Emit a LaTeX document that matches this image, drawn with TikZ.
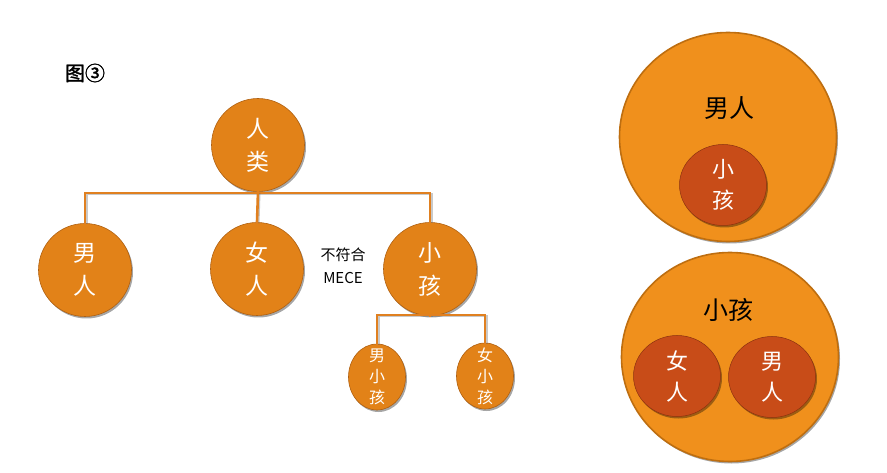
\documentclass[tikz,border=0pt]{standalone}
\usepackage{fontspec}
\newfontfamily\cjk{Noto Sans CJK SC}
\newfontfamily\cjkb[FakeBold=1.5]{Noto Sans CJK SC}
\usetikzlibrary{shapes.geometric,shadows}
\definecolor{nodeorange}{RGB}{226,130,24}
\definecolor{nodeedge}{RGB}{176,96,16}
\definecolor{bigorange}{RGB}{240,144,28}
\definecolor{bigedge}{RGB}{190,110,16}
\definecolor{innerred}{RGB}{200,76,24}
\definecolor{innerredge}{RGB}{140,50,16}
\definecolor{linecol}{RGB}{224,128,32}
\tikzset{
  shad/.style={drop shadow={shadow xshift=1.5pt,shadow yshift=-2pt,opacity=0.35,fill=black}},
  treenode/.style={circle,fill=nodeorange,draw=nodeedge,line width=0.6pt,minimum size=93pt,inner sep=0pt,
    text=white,align=center,font=\cjk\fontsize{23}{33}\selectfont,shad},
  leafnode/.style={ellipse,fill=nodeorange,draw=nodeedge,line width=0.6pt,minimum width=57pt,minimum height=66pt,inner sep=0pt,shad},
  leaftext/.style={text=white,align=center,font=\cjk\fontsize{16}{21}\selectfont},
  bignode/.style={ellipse,fill=bigorange,draw=bigedge,line width=1.6pt,minimum width=217pt,minimum height=209pt,inner sep=0pt,shad},
  innernode/.style={ellipse,fill=innerred,draw=innerredge,line width=0.5pt,minimum width=87pt,minimum height=81pt,inner sep=0pt,
    text=white,align=center,font=\cjk\fontsize{22}{31}\selectfont,shad},
  bigtext/.style={text=black,font=\cjk\fontsize{25}{28}\selectfont},
  conn/.style={draw=linecol,line width=2.6pt,line cap=rect,
    preaction={draw=black!60,opacity=0.35,line width=2.6pt,transform canvas={xshift=1.2pt,yshift=-1.2pt}}},
  plain/.style={text=black,font=\cjk\fontsize{15}{23}\selectfont,align=center}
}
\begin{document}
\begin{tikzpicture}[x=1pt,y=-1pt]
\useasboundingbox[fill=white] (0,0) rectangle (887,473);
\node[text=black,font=\cjkb\fontsize{20}{22}\selectfont] (title) at (85,73) {图③};
% tree
\coordinate (bar) at (0,193);
\coordinate (subbar) at (0,315);
\node[treenode] (renlei) at (258,145) {人\\类};
\node[treenode] (nanren) at (85,270) {男\\人};
\node[treenode] (nvren) at (257,269) {女\\人};
\node[treenode] (xiaohai) at (430,269) {小\\孩};
\node[leafnode,label={[leaftext]center:男\\小\\孩}] (nanxh) at (377,377) {};
\node[leafnode,label={[leaftext]center:女\\小\\孩}] (nvxh) at (485,376) {};
\node[plain] (mece) at (343,266) {不符合\\MECE};
\draw[conn] (nanren.north) -- (nanren.north |- bar) -- (xiaohai.north |- bar) -- (xiaohai.north);
\draw[conn] (renlei.south) -- (nvren.north);
\draw[conn] (nanxh.north) -- (nanxh.north |- subbar) -- (nvxh.north |- subbar) -- (nvxh.north);
\draw[conn] (xiaohai.south) -- (xiaohai.south |- subbar);
% right diagrams
\node[bignode] (bigA) at (728,137) {};
\node[bigtext] (bigAtext) at (729,108) {男人};
\node[innernode] (innerA) at (723,185) {小\\孩};
\node[bignode] (bigB) at (730,357) {};
\node[bigtext] (bigBtext) at (728,310) {小孩};
\node[innernode] (innerB1) at (677,376) {女\\人};
\node[innernode] (innerB2) at (772,377) {男\\人};
\end{tikzpicture}
\end{document}
